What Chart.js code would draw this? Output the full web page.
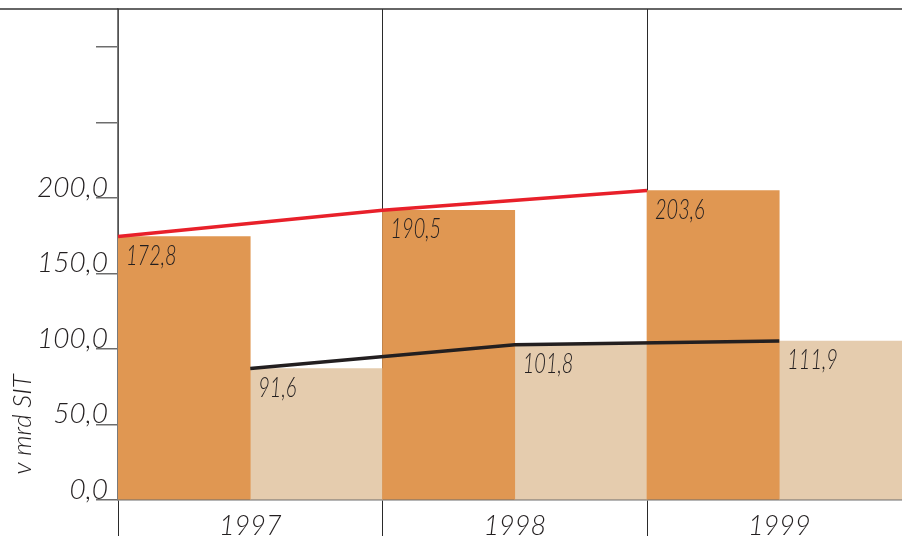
<!DOCTYPE html>
<html>
<head>
<meta charset="utf-8">
<script src="https://cdn.jsdelivr.net/npm/chart.js@4"></script>
<style>
  html, body { margin: 0; padding: 0; overflow: hidden; background: #fff; }
  #wrap { width: 930px; height: 536px; }
</style>
</head>
<body>
<div id="wrap"><canvas id="chart"></canvas></div>
<script>
// values (bar heights), printed labels as shown
const years = ["1997", "1998", "1999"];
const darkValues = [174.4, 191.8, 204.8];
const lightValues = [87.0, 102.8, 105.2];
const darkLabels = ["172,8", "190,5", "203,6"];
const lightLabels = ["91,6", "101,8", "111,9"];
const yTickValues = [0, 50, 100, 150, 200, 250, 300];
const yTickLabels = ["0,0", "50,0", "100,0", "150,0", "200,0", "", ""];
const yTitle = "v mrd SIT";

const TEXT = "#231f20";
const FONT = "Lato, 'DejaVu Sans', sans-serif";

// value labels in the top-left corner of each bar
const barLabels = {
  id: "barLabels",
  afterDatasetsDraw(chart) {
    const ctx = chart.ctx;
    ctx.save();
    ctx.fillStyle = TEXT;
    ctx.font = "italic 300 27px " + FONT;
    ctx.textBaseline = "alphabetic";
    [[2, darkLabels], [3, lightLabels]].forEach(([idx, texts]) => {
      chart.getDatasetMeta(idx).data.forEach((bar, i) => {
        const left = bar.x - bar.width / 2;
        ctx.save();
        ctx.translate(left + 8, bar.y + 28);
        ctx.scale(0.74, 1);
        ctx.fillText(texts[i], 0, 0);
        ctx.restore();
      });
    });
    ctx.restore();
  }
};

// top rule + rotated axis title
const frame = {
  id: "frame",
  afterDraw(chart) {
    const ctx = chart.ctx;
    const top = chart.chartArea.top;
    ctx.save();
    ctx.strokeStyle = "#333";
    ctx.lineWidth = 1.5;
    ctx.beginPath();
    ctx.moveTo(0, top);
    ctx.lineTo(chart.width, top);
    ctx.stroke();

    const y = chart.scales.y;
    ctx.translate(23, y.getPixelForValue(50));
    ctx.rotate(-Math.PI / 2);
    ctx.fillStyle = TEXT;
    ctx.font = "italic 300 26px " + FONT;
    ctx.textAlign = "center";
    ctx.textBaseline = "middle";
    ctx.fillText(yTitle, 0, 0);
    ctx.restore();
  }
};

new Chart(document.getElementById("chart"), {
  type: "bar",
  data: {
    labels: years,
    datasets: [
      {
        // red line joins the top-left corners of the dark bars (category edge = index - 0.5)
        type: "line",
        parsing: false,
        data: darkValues.map((v, i) => ({ x: i - 0.5, y: v })),
        borderColor: "#e8202a",
        borderWidth: 3.5,
        pointRadius: 0,
        tension: 0,
        order: 1
      },
      {
        // black line joins the top-left corners of the light bars (category centre)
        type: "line",
        parsing: false,
        data: lightValues.map((v, i) => ({ x: i, y: v })),
        borderColor: "#231f20",
        borderWidth: 3.5,
        pointRadius: 0,
        tension: 0,
        order: 1
      },
      {
        data: darkValues,
        backgroundColor: "#e09752",
        borderWidth: 0,
        categoryPercentage: 1,
        barPercentage: 1,
        order: 2
      },
      {
        data: lightValues,
        backgroundColor: "#e5ccae",
        borderWidth: 0,
        categoryPercentage: 1,
        barPercentage: 1,
        order: 2
      }
    ]
  },
  options: {
    responsive: true,
    maintainAspectRatio: false,
    animation: false,
    layout: { padding: { top: 9, right: 18.5, left: 0, bottom: 0 } },
    plugins: {
      legend: { display: false },
      tooltip: { enabled: false }
    },
    scales: {
      x: {
        type: "category",
        offset: true,
        z: 1,
        grid: { offset: true, color: "#2a2a2a", lineWidth: 1, tickLength: 36 },
        border: { color: "#6d6d6d", width: 1.5 },
        ticks: {
          color: TEXT,
          font: { family: FONT, style: "italic", weight: 300, size: 27 },
          padding: -26,
          maxRotation: 0
        },
        afterFit(scale) { scale.height = 36; }
      },
      y: {
        min: 0,
        max: 325,
        afterBuildTicks(scale) { scale.ticks = yTickValues.map(v => ({ value: v })); },
        grid: { drawOnChartArea: false, color: "#6d6d6d", lineWidth: 1.5, tickLength: 22 },
        border: { color: "#7a7a7a", width: 1.5 },
        ticks: {
          callback: (v, i) => yTickLabels[i],
          color: TEXT,
          font: { family: FONT, style: "italic", weight: 300, size: 28 },
          padding: -12,
          labelOffset: -10
        },
        afterFit(scale) { scale.width = 118; }
      }
    }
  },
  plugins: [barLabels, frame]
});
</script>
</body>
</html>
